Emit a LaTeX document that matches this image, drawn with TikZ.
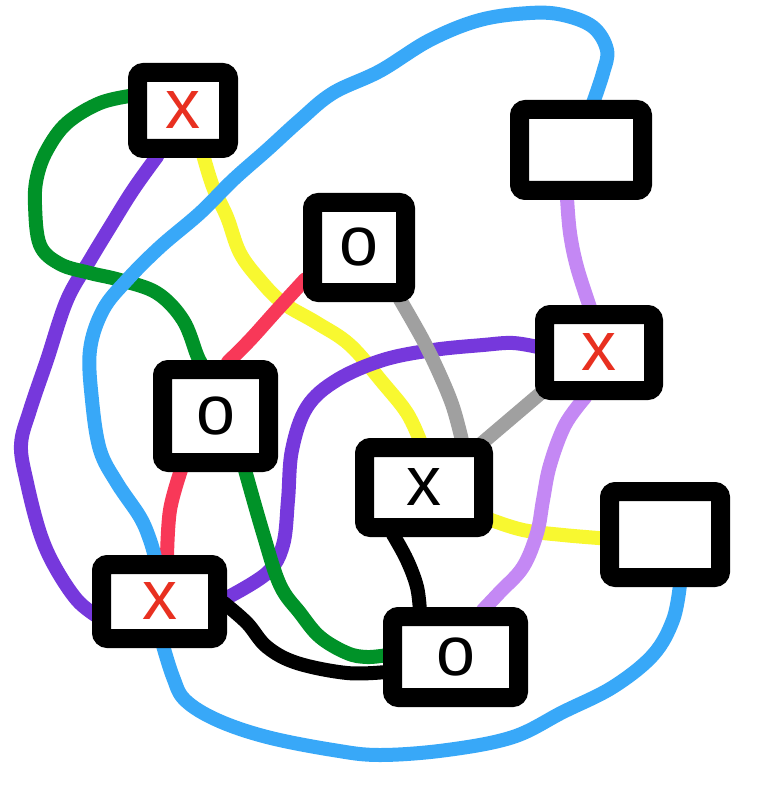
\documentclass[tikz,border=0pt]{standalone}
\usepackage{fontspec}
\setmainfont{Liberation Sans}
\usetikzlibrary{backgrounds}
\definecolor{cgreen}{RGB}{0,146,40}
\definecolor{cpurple}{RGB}{118,56,220}
\definecolor{cyellow}{RGB}{248,248,48}
\definecolor{cblue}{RGB}{56,168,248}
\definecolor{cred}{RGB}{248,56,88}
\definecolor{cgray}{RGB}{160,160,160}
\definecolor{clpurple}{RGB}{196,136,244}
\definecolor{cmark}{RGB}{232,48,32}
\begin{document}
\begin{tikzpicture}[x=1pt,y=-1pt,
  box/.style={draw=black, line width=19pt, fill=white, rounded corners=6pt,
    inner sep=0pt, font=\fontsize{70}{70}\selectfont},
  redmark/.style={text=cmark},
  blackmark/.style={text=black},
  wire/.style={line width=14pt, line cap=round, line join=round},
  curve/.style={smooth, tension=0.6}]
\useasboundingbox (0,0) rectangle (758,791);
% boxes
\node[box, redmark, minimum width=91pt, minimum height=76pt] (b1) at (183,110.5) {x};
\node[box, minimum width=123pt, minimum height=81pt] (b2) at (581,150) {};
\node[box, blackmark, minimum width=93pt, minimum height=90pt] (b3) at (359,247.5) {o};
\node[box, blackmark, minimum width=106pt, minimum height=93pt] (b4) at (215.5,416) {o};
\node[box, redmark, minimum width=109pt, minimum height=76pt] (b5) at (599,352.5) {x};
\node[box, blackmark, minimum width=119pt, minimum height=80pt] (b6) at (424,487.5) {x};
\node[box, minimum width=111pt, minimum height=86pt] (b7) at (665,534.5) {};
\node[box, redmark, minimum width=116pt, minimum height=74pt] (b8) at (159.5,601.5) {x};
\node[box, blackmark, minimum width=126pt, minimum height=81pt] (b9) at (455.5,657) {o};
\begin{pgfonlayer}{background}
\fill[white] (0,0) rectangle (758,791);
% purple b1 -> b8
\draw[wire, cpurple] plot[curve] coordinates {([shift={(-26,46)}]b1.center) (133,190) (110,227) (90,260) (67,300) (47,360) (30,410) (21,445) (27,483) (40,533) (55,567) (77,600) ([shift={(-62,15)}]b8.center)};
% yellow b1 -> b6
\draw[wire, cyellow] plot[curve] coordinates {([shift={(20,44)}]b1.center) (213,187) (227,217) (240,253) (260,280) (283,303) (317,323) (350,345) (383,383) (407,413) ([shift={(-4,-47)}]b6.center)};
% yellow b6 -> b7
\draw[wire, cyellow] plot[curve] coordinates {([shift={(66,32)}]b6.center) (523,530) (563,535) ([shift={(-60,4)}]b7.center)};
% purple b8 -> b5
\draw[wire, cpurple] plot[curve] coordinates {([shift={(68,-4)}]b8.center) (267,573) (283,545) (288,500) (292,450) (307,407) (337,380) (383,360) (433,350) (483,345) (513,343) ([shift={(-59,-5)}]b5.center)};
% gray b3 -> b6, b5 -> b6
\draw[wire, cgray] plot[curve] coordinates {([shift={(41,52)}]b3.center) (423,340) (440,375) (453,407) ([shift={(38,-47)}]b6.center)};
\draw[wire, cgray] ([shift={(-54,37)}]b5.center) -- ([shift={(54,-41)}]b6.center);
% red b3 -> b4, b4 -> b8
\draw[wire, cred] plot[curve] coordinates {([shift={(-54,32)}]b3.center) (277,310) (250,340) ([shift={(12.5,-54)}]b4.center)};
\draw[wire, cred] plot[curve] coordinates {([shift={(-34.5,54)}]b4.center) (170,510) ([shift={(7.5,-45)}]b8.center)};
% green b1 -> b4, b4 -> b9
\draw[wire, cgreen] plot[curve] coordinates {([shift={(-50,-15)}]b1.center) (100,103) (67,123) (47,150) (37,177) (35,205) (40,245) (60,264) (90,273) (120,280) (157,293) (183,320) (197,355) ([shift={(-15,-54)}]b4.center)};
\draw[wire, cgreen] plot[curve] coordinates {([shift={(29.5,54)}]b4.center) (263,533) (280,585) (300,613) (320,637) (347,653) (367,657) ([shift={(-68,-2)}]b9.center)};
% blue b2 -> b8, b8 -> b7
\draw[wire, cblue] plot[curve] coordinates {([shift={(12,-47)}]b2.center) (603,73) (607,50) (593,27) (563,15) (530,13) (480,20) (430,40) (380,71) (333,93) (300,120) (267,150) (233,180) (200,213) (160,247) (127,280) (103,310) (90,350) (92,400) (100,450) (117,483) (140,517) (150,540) ([shift={(-4.5,-44)}]b8.center)};
\draw[wire, cblue] plot[curve] coordinates {([shift={(3.5,44)}]b8.center) (173,677) (185,700) (217,720) (267,737) (333,750) (380,755) (447,750) (513,737) (563,712) (613,687) (653,655) (673,620) ([shift={(15,50)}]b7.center)};
% light purple b2 -> b5, b5 -> b9
\draw[wire, clpurple] plot[curve] coordinates {([shift={(-14,48)}]b2.center) (570,233) (577,267) ([shift={(-9,-45)}]b5.center)};
\draw[wire, clpurple] plot[curve] coordinates {([shift={(-14,45)}]b5.center) (565,425) (550,465) (543,500) (537,533) (523,567) (500,592) ([shift={(27.5,-47)}]b9.center)};
% black b6 -> b9, b8 -> b9
\draw[wire, black] plot[curve] coordinates {([shift={(-31,47)}]b6.center) (407,560) (417,587) ([shift={(-35.5,-45)}]b9.center)};
\draw[wire, black] plot[curve] coordinates {([shift={(64.5,1.5)}]b8.center) (247,623) (267,647) (297,663) (347,673) ([shift={(-69.5,15)}]b9.center)};
\end{pgfonlayer}
\end{tikzpicture}
\end{document}
